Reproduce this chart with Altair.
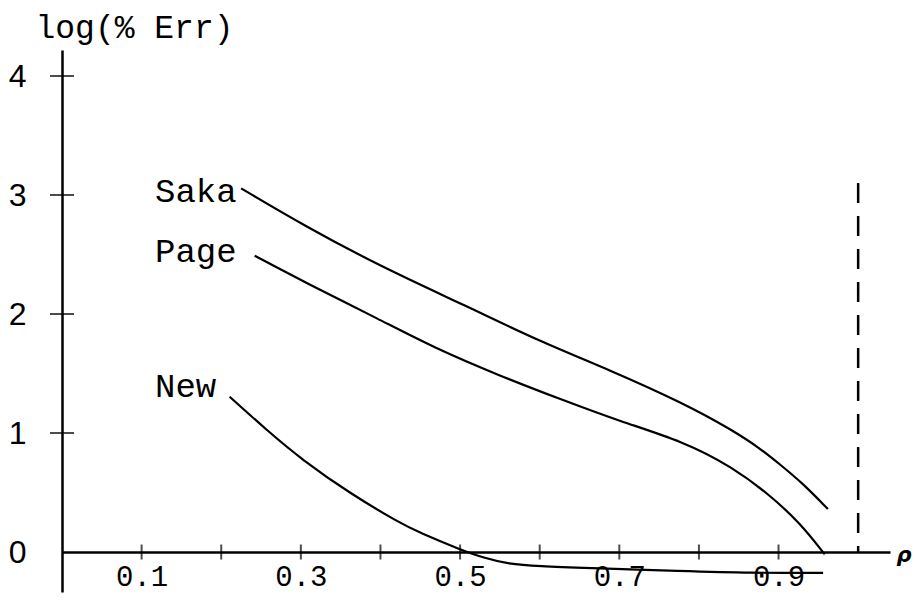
import altair as alt
import pandas as pd

# ---- data ----
saka_x = [0.225, 0.305, 0.40, 0.508, 0.60, 0.688, 0.780, 0.842, 0.879, 0.901, 0.930, 0.962]
saka_y = [3.056, 2.74, 2.40, 2.067, 1.77, 1.53, 1.252, 1.025, 0.86, 0.74, 0.58, 0.361]

page_x = [0.242, 0.307, 0.40, 0.466, 0.55, 0.629, 0.70, 0.78, 0.842, 0.889, 0.927, 0.958]
page_y = [2.49, 2.26, 1.95, 1.72, 1.48, 1.277, 1.10, 0.93, 0.714, 0.479, 0.244, -0.02]

new_x = [0.2105, 0.257, 0.302, 0.361, 0.424, 0.45, 0.50, 0.53, 0.56, 0.60, 0.654, 0.78, 0.864, 0.956]
new_y = [1.305, 1.025, 0.773, 0.496, 0.244, 0.16, 0.02, -0.05, -0.10, -0.12, -0.134, -0.16, -0.176, -0.176]

series_names = ["Saka", "Page", "New"]
x_tick_values = [0.1, 0.2, 0.3, 0.4, 0.5, 0.6, 0.7, 0.8, 0.9]
x_label_values = [0.1, 0.3, 0.5, 0.7, 0.9]
y_tick_values = [1, 2, 3, 4]
y_label_values = [0, 1, 2, 3, 4]
rho_limit = [1.0]

# ---- tables ----
rows = []
for name, xs, ys in zip(series_names, [saka_x, page_x, new_x], [saka_y, page_y, new_y]):
    for i, (a, b) in enumerate(zip(xs, ys)):
        rows.append({"series": name, "rho": a, "err": b, "order": i})
curves = pd.DataFrame(rows)
starts = curves[curves["order"] == 0]

xticks = pd.DataFrame({"rho": x_tick_values, "err": [0] * len(x_tick_values)})
yticks = pd.DataFrame({"err": y_tick_values, "rho": [0] * len(y_tick_values)})
limit = pd.DataFrame({"rho": rho_limit})

X_DOMAIN = [0, 1.04]
Y_DOMAIN = [-0.336, 4.2185]

xscale = alt.Scale(domain=X_DOMAIN, nice=False, zero=False)
yscale = alt.Scale(domain=Y_DOMAIN, nice=False, zero=False)

MONO = "Liberation Mono"

x_enc = alt.X(
    "rho:Q",
    scale=xscale,
    axis=alt.Axis(
        values=x_label_values,
        format=".1f",
        offset=-40,
        domain=True,
        domainColor="black",
        domainWidth=2.5,
        ticks=False,
        grid=False,
        labelFont=MONO,
        labelFontSize=29,
        labelColor="black",
        labelPadding=10,
        title="ρ",
        titleFont="DejaVu Sans",
        titleFontStyle="italic",
        titleFontWeight="bold",
        titleFontSize=21,
        titleAngle=0,
        titleX=834,
        titleY=3,
        titleAlign="left",
        titleBaseline="middle",
        titleColor="black",
    ),
)
y_enc = alt.Y(
    "err:Q",
    scale=yscale,
    axis=alt.Axis(
        values=y_label_values,
        format="d",
        domain=True,
        domainColor="black",
        domainWidth=2.5,
        ticks=False,
        grid=False,
        labelFont="Liberation Sans",
        labelFontSize=32,
        labelColor="black",
        labelPadding=36,
        title="log(% Err)",
        titleFont=MONO,
        titleFontSize=33,
        titleFontWeight="normal",
        titleAngle=0,
        titleX=-27,
        titleY=-13,
        titleAlign="left",
        titleBaseline="alphabetic",
        titleColor="black",
    ),
)

lines = alt.Chart(curves).mark_line(
    color="black", strokeWidth=2.2, interpolate="basis"
).encode(x=x_enc, y=y_enc, detail="series:N", order="order:Q")

xt = alt.Chart(xticks).mark_tick(
    orient="vertical", color="black", thickness=2, size=15
).encode(x=alt.X("rho:Q", scale=xscale), y=alt.Y("err:Q", scale=yscale))

yt = alt.Chart(yticks).mark_tick(
    orient="horizontal", color="black", thickness=2, size=24
).encode(x=alt.X("rho:Q", scale=xscale), y=alt.Y("err:Q", scale=yscale))

dash = alt.Chart(limit).mark_rule(
    color="black", strokeWidth=2.5, strokeDash=[20, 13]
).encode(x=alt.X("rho:Q", scale=xscale), y=alt.value(133), y2=alt.value(502))

label_dy = {"Saka": 14, "Page": 6, "New": 0}
label_layers = []
for name in series_names:
    label_layers.append(
        alt.Chart(starts[starts["series"] == name]).mark_text(
            font=MONO, fontSize=34, color="black", align="left",
            baseline="alphabetic", dy=label_dy[name]
        ).encode(x=alt.value(93), y=alt.Y("err:Q", scale=yscale), text="series:N")
    )

chart = alt.layer(lines, xt, yt, dash, *label_layers).properties(
    width=828,
    height=542,
    autosize=alt.AutoSizeParams(type="none"),
    padding={"left": 62, "top": 50, "right": 25, "bottom": 11},
    background="white",
).configure_view(stroke=None)

chart.save("out.html", embed_options={"renderer": "svg", "actions": False})
